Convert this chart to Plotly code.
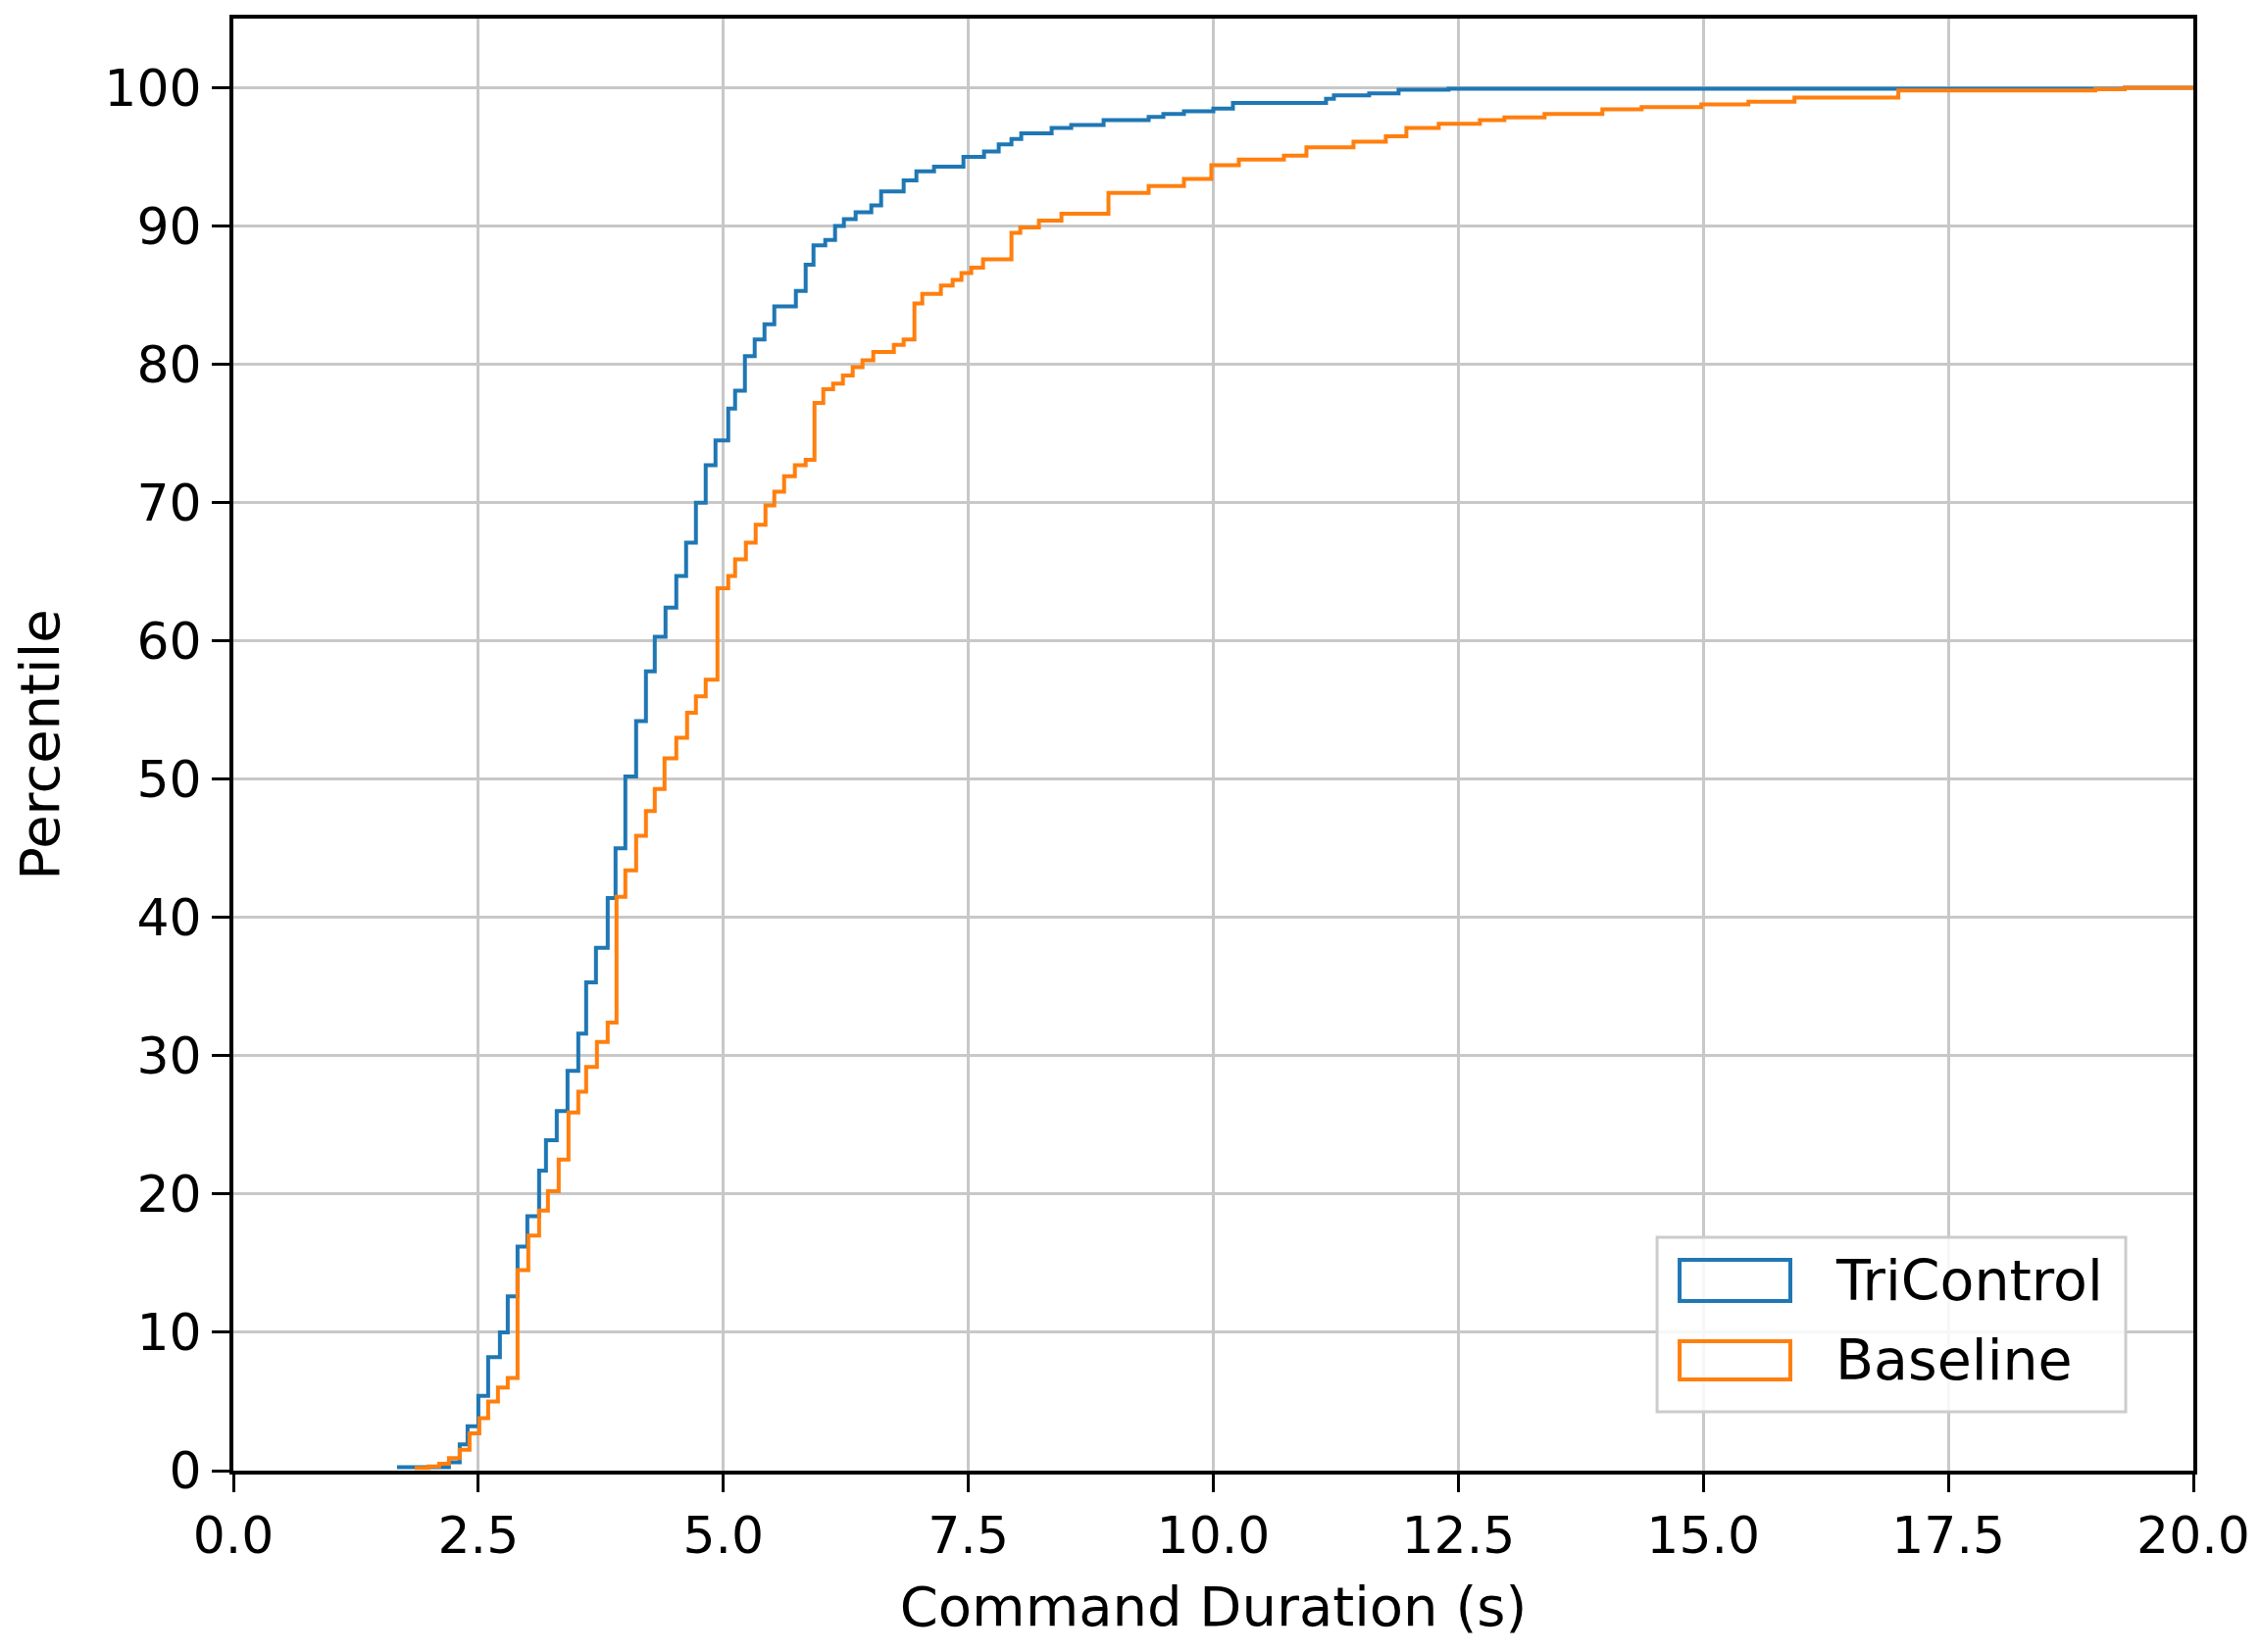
#Import plotly graph objects to draw the cumulative step curves
import plotly.graph_objects as go

#Step positions (s) and cumulative percentile - TriControl
tri_x = [1.67, 2.20, 2.31, 2.39, 2.50, 2.60, 2.72, 2.80, 2.90, 3.00,
         3.12, 3.19, 3.30, 3.41, 3.52, 3.60, 3.70, 3.82, 3.90, 4.00,
         4.11, 4.21, 4.30, 4.41, 4.52, 4.62, 4.72, 4.82, 4.92, 5.05,
         5.12, 5.22, 5.32, 5.42, 5.52, 5.74, 5.84, 5.92, 6.04, 6.14,
         6.23, 6.35, 6.51, 6.61, 6.84, 6.97, 7.15, 7.45, 7.66, 7.81,
         7.94, 8.04, 8.35, 8.55, 8.88, 9.34, 9.49, 9.70, 10.0, 10.2,
         11.15, 11.23, 11.59, 11.89, 12.4, 19.3, 20.0]
tri_pct = [0.25, 0.6, 1.9, 3.2, 5.4, 8.2, 10.0, 12.6, 16.2, 18.4,
           21.7, 23.9, 26.0, 28.9, 31.6, 35.3, 37.8, 41.4, 45.0, 50.2,
           54.2, 57.8, 60.3, 62.4, 64.7, 67.1, 70.0, 72.7, 74.5, 76.8,
           78.1, 80.6, 81.8, 82.9, 84.2, 85.3, 87.2, 88.6, 89.0, 90.0,
           90.5, 91.0, 91.5, 92.5, 93.3, 93.95, 94.3, 95.0, 95.4, 95.9,
           96.3, 96.7, 97.1, 97.3, 97.66, 97.9, 98.1, 98.3, 98.5, 98.9,
           99.2, 99.46, 99.6, 99.86, 99.93, 100, 100]

#Same for Baseline
base_x = [1.85, 1.99, 2.10, 2.20, 2.31, 2.41, 2.51, 2.60, 2.70, 2.80,
          2.90, 3.01, 3.12, 3.21, 3.32, 3.42, 3.52, 3.60, 3.71, 3.82,
          3.91, 4.00, 4.11, 4.21, 4.30, 4.40, 4.52, 4.63, 4.72, 4.82,
          4.94, 5.05, 5.12, 5.23, 5.33, 5.43, 5.52, 5.62, 5.73, 5.84,
          5.93, 6.02, 6.12, 6.22, 6.32, 6.42, 6.53, 6.74, 6.84, 6.95,
          7.03, 7.22, 7.34, 7.43, 7.53, 7.65, 7.94, 8.03, 8.22, 8.45,
          8.93, 9.34, 9.70, 9.98, 10.26, 10.72, 10.95, 11.43, 11.76, 11.97,
          12.3, 12.72, 12.97, 13.38, 13.97, 14.37, 14.98, 15.46, 15.93, 16.99,
          19.0, 19.3, 20.0]
base_pct = [0.2, 0.3, 0.5, 0.9, 1.5, 2.7, 3.8, 5.0, 6.0, 6.7,
            14.5, 17.0, 18.8, 20.2, 22.5, 25.9, 27.4, 29.2, 31.0, 32.4,
            41.5, 43.4, 45.9, 47.7, 49.3, 51.5, 53.0, 54.8, 56.0, 57.2,
            63.8, 64.7, 65.9, 67.1, 68.4, 69.8, 70.8, 71.9, 72.7, 73.1,
            77.2, 78.2, 78.6, 79.2, 79.8, 80.3, 80.9, 81.4, 81.8, 84.4,
            85.1, 85.7, 86.1, 86.6, 87.0, 87.6, 89.5, 89.9, 90.4, 90.9,
            92.4, 92.9, 93.4, 94.4, 94.8, 95.1, 95.7, 96.1, 96.5, 97.1,
            97.4, 97.66, 97.85, 98.1, 98.45, 98.6, 98.8, 99.0, 99.3, 99.8,
            99.9, 100, 100]

#Tick values/labels
x_ticks = [0, 2.5, 5, 7.5, 10, 12.5, 15, 17.5, 20]
x_labels = ["0.0", "2.5", "5.0", "7.5", "10.0", "12.5", "15.0", "17.5", "20.0"]
y_ticks = [0, 10, 20, 30, 40, 50, 60, 70, 80, 90, 100]

series_names = ["TriControl", "Baseline"]
blue = "#1f77b4"
orange = "#ff7f0e"

font_name = "DejaVu Sans"
tick_size = 52
title_size = 56
legend_size = 57

fig = go.Figure()
fig.add_trace(go.Scatter(x=tri_x, y=tri_pct, mode="lines", line_shape="hv",
                         line=dict(color=blue, width=4), name=series_names[0], showlegend=False))
fig.add_trace(go.Scatter(x=base_x, y=base_pct, mode="lines", line_shape="hv",
                         line=dict(color=orange, width=4), name=series_names[1], showlegend=False))

#Matplotlib style legend with hollow patches, drawn by hand
fig.add_shape(type="rect", xref="paper", yref="paper", x0=0.7264, x1=0.9655, y0=0.0405, y1=0.1607,
              line=dict(color="#cccccc", width=3), fillcolor="rgba(255,255,255,0.85)", layer="above")
fig.add_shape(type="rect", xref="paper", yref="paper", x0=0.7379, x1=0.7944, y0=0.1168, y1=0.1452,
              line=dict(color=blue, width=4), layer="above")
fig.add_shape(type="rect", xref="paper", yref="paper", x0=0.7379, x1=0.7944, y0=0.0628, y1=0.0891,
              line=dict(color=orange, width=4), layer="above")
fig.add_annotation(xref="paper", yref="paper", x=0.8164, y=0.131, text=series_names[0], showarrow=False,
                   xanchor="left", yanchor="middle", font=dict(family=font_name, size=legend_size, color="black"))
fig.add_annotation(xref="paper", yref="paper", x=0.8164, y=0.0763, text=series_names[1], showarrow=False,
                   xanchor="left", yanchor="middle", font=dict(family=font_name, size=legend_size, color="black"))

#Page body adds ~8px offset, so margins are shifted to compensate
fig.update_layout(
    width=2305, height=1685, autosize=False,
    margin=dict(l=230, r=76, t=11, b=193, autoexpand=False),
    plot_bgcolor="white", paper_bgcolor="white",
    font=dict(family=font_name, size=tick_size, color="black"),
)
fig.update_xaxes(range=[0, 20], tickvals=x_ticks, ticktext=x_labels,
                 showgrid=True, gridcolor="#c8c8c8", gridwidth=3,
                 showline=True, linecolor="black", linewidth=4, mirror=True,
                 ticks="outside", ticklen=18, tickwidth=3, tickcolor="black",
                 zeroline=False,
                 title=dict(text="Command Duration (s)", standoff=24, font=dict(size=title_size)))
fig.update_yaxes(range=[0, 105], tickvals=y_ticks,
                 showgrid=True, gridcolor="#c8c8c8", gridwidth=3,
                 showline=True, linecolor="black", linewidth=4, mirror=True,
                 ticks="outside", ticklen=18, tickwidth=3, tickcolor="black",
                 zeroline=False,
                 title=dict(text="Percentile", standoff=32, font=dict(size=title_size)))

fig.write_html("out.html")
